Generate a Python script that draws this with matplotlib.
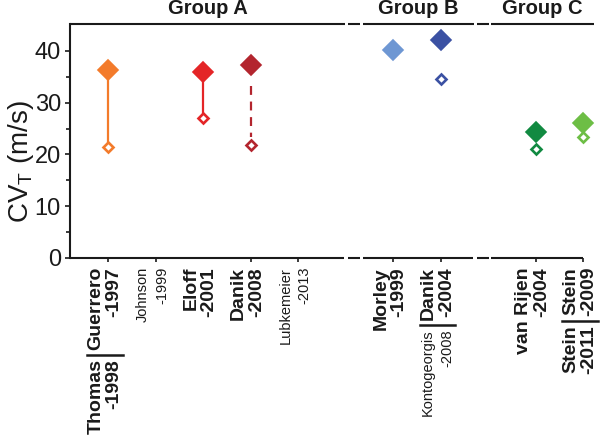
import matplotlib
matplotlib.use('Agg')
import matplotlib.pyplot as plt
from matplotlib.lines import Line2D
import numpy as np

plt.rcParams['font.family'] = 'Liberation Sans'
plt.rcParams['mathtext.fontset'] = 'custom'
plt.rcParams['mathtext.rm'] = 'Liberation Sans'

# study positions along x (gaps at 6 and 9 separate the groups)
study_pos = [1, 3, 4, 7, 8, 10, 11]
cv_filled = [36.4, 36.0, 37.3, 40.2, 42.1, 24.3, 26.0]
cv_open = [21.4, 27.0, 21.9, np.nan, 34.5, 21.1, 23.4]
link_style = ['-', '-', '--', None, None, None, None]
colors = ['#F37B2B', '#E42527', '#B3252E', '#6E97D3', '#3B51A3', '#118A41', '#6DBE45']

tick_pos = [1, 2, 4, 5, 7, 8, 10, 11]
label_pos = [1, 2, 3, 4, 5, 7, 8, 10, 11]
label_top = ['Guerrero\n-1997', 'Johnson\n-1999', 'Eloff\n-2001', 'Danik\n-2008',
             'Lubkemeier\n-2013', 'Morley\n-1999', 'Danik\n-2004', 'van Rijen\n-2004',
             'Stein\n-2009']
label_bold = [True, False, True, True, False, True, True, True, True]
# second study sharing a tick: position -> (label, bold)
label_second = {1: ('Thomas\n-1998', True),
                8: ('Kontogeorgis\n-2008', False),
                11: ('Stein\n-2011', True)}

group_names = ['Group A', 'Group B', 'Group C']
group_span = [(0.2, 5.99), (6.37, 8.71), (9.06, 11.23)]
bottom_span = [(0.2, 5.97), (6.37, 8.68), (9.06, 11.0)]
break_dash = [(6.05, 6.30), (8.76, 9.01)]

W, H = 600, 441
fig = plt.figure(figsize=(6, 4.41), dpi=100)
ax = fig.add_axes([70/W, 1-258/H, (594-70)/W, (258-24)/H])

txtcol = '#1a1a1a'
for i, x in enumerate(study_pos):
    c = colors[i]
    if link_style[i] == '-':
        ax.plot([x, x], [cv_filled[i], cv_open[i]], color=c, lw=1.6, zorder=2)
    elif link_style[i] == '--':
        ax.plot([x, x], [cv_filled[i]-4, cv_open[i]+1.5], color=c, lw=1.6,
                dashes=(4, 3), zorder=2)
    ax.plot(x, cv_filled[i], marker='D', ms=10.5, color=c, mec=c, mew=1.2,
            ls='none', zorder=3)
    if not np.isnan(cv_open[i]):
        ax.plot(x, cv_open[i], marker='D', ms=5.5, mfc='white', mec=c, mew=1.9,
                ls='none', zorder=3)

ax.set_xlim(0.2, 11.23)
ax.set_ylim(0, 45.2)
ax.set_yticks([0, 10, 20, 30, 40])
ax.set_yticks([5, 15, 25, 35], minor=True)
ax.set_xticks(tick_pos)
ax.set_xticklabels([])
ax.tick_params(axis='y', which='major', direction='out', length=3.5, width=1.2,
               labelsize=17, pad=3, colors=txtcol)
ax.tick_params(axis='y', which='minor', direction='out', length=3, width=1.2, colors=txtcol)
ax.tick_params(axis='x', direction='out', length=3, width=1.2, colors=txtcol)
for s in ['top', 'bottom', 'right']:
    ax.spines[s].set_visible(False)
ax.spines['left'].set_linewidth(1.5)
ax.spines['left'].set_color(txtcol)

ax.set_ylabel(r'CV$_\mathrm{T}$ (m/s)', fontsize=20, color=txtcol)
ax.yaxis.set_label_coords(-0.064, 0.41)

# broken top / bottom axes
xt = ax.get_xaxis_transform()
for (a, b), name in zip(group_span, group_names):
    ax.plot([a, b], [1, 1], color=txtcol, lw=1.5, transform=xt, clip_on=False,
            solid_capstyle='butt')
    ax.text((a+b)/2, 1.068, name, transform=xt, ha='center', va='center',
            fontsize=14.5, fontweight='bold', color=txtcol)
for a, b in bottom_span:
    ax.plot([a, b], [0, 0], color=txtcol, lw=1.5, transform=xt, clip_on=False,
            solid_capstyle='butt')
for a, b in break_dash:
    for yy in [0, 1]:
        ax.plot([a, b], [yy, yy], color=txtcol, lw=1.5, transform=xt, clip_on=False,
                solid_capstyle='butt')

# rotated study labels
def study_label(x, lab, bold, dy):
    return ax.annotate(lab, xy=(x, 0), xycoords=xt, xytext=(-3, dy),
                       textcoords='offset pixels', rotation=90, ha='center', va='top',
                       multialignment='right',
                       linespacing=1.1 if bold else 1.45,
                       fontsize=14 if bold else 10.5,
                       fontweight='bold' if bold else 'normal', color=txtcol)

top_labels = {}
for x, lab, bold in zip(label_pos, label_top, label_bold):
    top_labels[x] = study_label(x, lab, bold, -9)

fig.canvas.draw()
rend = fig.canvas.get_renderer()
ax_bottom = fig.bbox.height*ax.get_position().y0
for x, (lab, bold) in label_second.items():
    bb = top_labels[x].get_window_extent(rend)
    t2 = study_label(x, lab, bold, -(ax_bottom - bb.y0) - 9)
    bb2 = t2.get_window_extent(rend)
    x0 = min(bb.x0, bb2.x0)
    x1 = max(bb.x1, bb2.x1)
    yb = (bb.y0 + bb2.y1)/2
    fig.add_artist(Line2D([x0/W, x1/W], [yb/H, yb/H], color=txtcol, lw=1.8,
                          transform=fig.transFigure))

fig.savefig('out.png', dpi=100)
